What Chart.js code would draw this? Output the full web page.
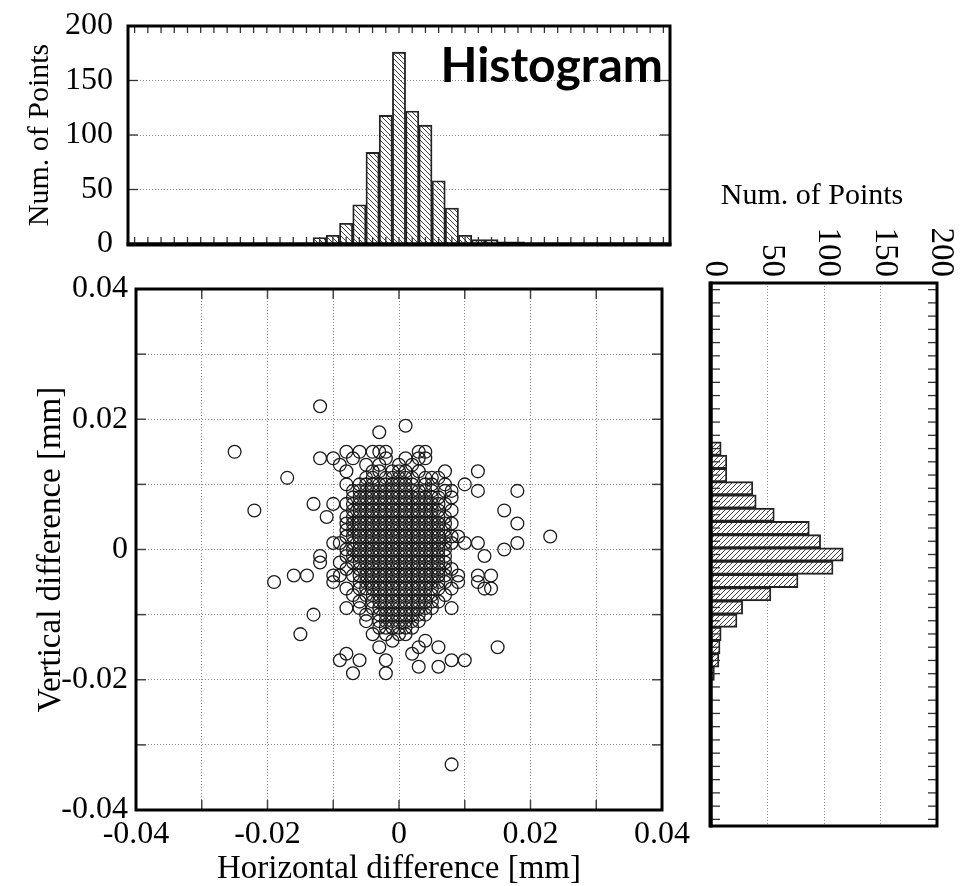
<!DOCTYPE html>
<html><head><meta charset="utf-8">
<script src="https://cdn.jsdelivr.net/npm/chart.js@4.4.1/dist/chart.umd.min.js"></script>
<style>
html,body{margin:0;padding:0;background:#fff;}
body{width:961px;height:886px;position:relative;overflow:hidden;}
.box{position:absolute;}
</style></head><body>
<div class="box" style="left:0;top:0;width:690px;height:265px"><canvas id="cTop"></canvas></div>
<div class="box" style="left:0;top:270px;width:690px;height:616px"><canvas id="cMain"></canvas></div>
<div class="box" style="left:690px;top:170px;width:271px;height:716px"><canvas id="cRight"></canvas></div>
<script>
// ---------- data ----------
// tick labels
const scatterTickLabels = ['-0.04', '-0.02', '0', '0.02', '0.04'];
const histTickLabels = ['0', '50', '100', '150', '200'];

// histogram of horizontal differences (bin centres in mm, counts)
const topBinCenters = [-0.012, -0.010, -0.008, -0.006, -0.004, -0.002, 0, 0.002, 0.004, 0.006, 0.008, 0.010, 0.012, 0.014, 0.016, 0.018];
const topCounts     = [6, 8, 19, 36, 84, 118, 176, 122, 109, 58, 33, 8, 4, 4, 2, 2];

// histogram of vertical differences (bin centres in mm, counts)
const rightBinCenters = [0.016, 0.014, 0.012, 0.010, 0.008, 0.006, 0.004, 0.002, 0, -0.002, -0.004, -0.006, -0.008, -0.010, -0.012, -0.014, -0.016, -0.018];
const rightCounts     = [9, 14, 14, 37, 40, 56, 87, 97, 117, 108, 77, 53, 28, 23, 9, 8, 7, 3];

// scatter, in micrometres (0.001 mm): filled stretches of the dense core [y, xFrom, xTo]
const coreRuns = [
  [11,-2,1],[10,-3,2],[9,-4,3],[8,-5,4],[7,-5,5],[6,-5,5],[5,-6,5],[4,-6,6],[3,-6,6],[2,-6,6],[1,-6,6],
  [0,-6,6],[-1,-6,6],[-2,-6,6],[-3,-5,6],[-4,-5,5],[-5,-4,5],[-6,-4,5],[-7,-3,4],[-8,-3,4],
  [-9,-2,3],[-10,-2,2],[-11,-1,2],[-12,-1,1]
];
// scatter, in micrometres: individual points around the core [x, y]
const loosePts = [
  [-12,22],[1,19],[-3,18],
  [-25,15],[-8,15],[-6,15],[-4,15],[-3,15],[-2,15],[3,15],[4,15],
  [-12,14],[-10,14],[-7,14],[-2,14],[1,14],[3,14],[4,14],
  [-9,13],[-5,13],[-3,13],[0,13],[2,13],
  [-8,12],[-4,12],[-3,12],[-1,12],[0,12],[1,12],[3,12],[7,12],[12,12],
  [-17,11],[-5,11],[-4,11],[2,11],[4,11],[5,11],[6,11],
  [-8,10],[-6,10],[-5,10],[-4,10],[4,10],[5,10],[7,10],[10,10],
  [-7,9],[-6,9],[-5,9],[4,9],[5,9],[7,9],[8,9],[12,9],[18,9],
  [-7,8],[-6,8],[5,8],[6,8],[8,8],
  [-13,7],[-10,7],[-8,7],[-7,7],[-6,7],[6,7],[7,7],
  [-22,6],[-7,6],[-6,6],[6,6],[8,6],[16,6],
  [-11,5],[-8,5],[-7,5],[6,5],[7,5],
  [-8,4],[-7,4],[7,4],[8,4],[18,4],
  [-8,3],[-7,3],[7,3],
  [-8,2],[-7,2],[7,2],[8,2],[9,2],[23,2],
  [-10,1],[-9,1],[-7,1],[7,1],[8,1],[10,1],[12,1],[18,1],
  [-8,0],[-7,0],[7,0],[16,0],
  [-12,-1],[-8,-1],[-7,-1],[7,-1],[13,-1],
  [-12,-2],[-9,-2],[-7,-2],[7,-2],
  [-8,-3],[-6,-3],[7,-3],[8,-3],
  [-16,-4],[-14,-4],[-10,-4],[-9,-4],[-7,-4],[-6,-4],[6,-4],[7,-4],[9,-4],[12,-4],[14,-4],
  [-19,-5],[-10,-5],[-6,-5],[-5,-5],[6,-5],[7,-5],[9,-5],[12,-5],
  [-8,-6],[-6,-6],[-5,-6],[6,-6],[8,-6],[13,-6],[14,-6],
  [-7,-7],[-5,-7],[-4,-7],[5,-7],[7,-7],
  [-6,-8],[-4,-8],[5,-8],[6,-8],
  [-8,-9],[-6,-9],[-4,-9],[-3,-9],[4,-9],[5,-9],[8,-9],
  [-13,-10],[-5,-10],[-3,-10],[3,-10],[4,-10],
  [-5,-11],[-3,-11],[-2,-11],[3,-11],
  [-3,-12],[-2,-12],[2,-12],
  [-15,-13],[-4,-13],[-2,-13],[0,-13],[1,-13],
  [-1,-14],[4,-14],
  [-3,-15],[3,-15],[6,-15],[15,-15],
  [-8,-16],[2,-16],
  [-9,-17],[-6,-17],[-2,-17],[8,-17],[10,-17],
  [3,-18],[6,-18],[-7,-19],[-2,-19],
  [8,-33]
];

// ---------- build ----------
const UM = 0.001;
const scatterPts = [];
coreRuns.forEach(([y, a, b]) => { for (let x = a; x <= b; x++) scatterPts.push({x: x * UM, y: y * UM}); });
loosePts.forEach(([x, y]) => scatterPts.push({x: x * UM, y: y * UM}));

const SERIF = '"Liberation Serif", "Times New Roman", Times, serif';
const GRID = '#8c8c8c';

function hatch(dir) {
  const s = 5, c = document.createElement('canvas');
  c.width = s; c.height = s;
  const g = c.getContext('2d');
  g.strokeStyle = '#2a2a2a'; g.lineWidth = 0.9; g.beginPath();
  if (dir > 0) { // "\"
    g.moveTo(-1, -1); g.lineTo(s + 1, s + 1);
    g.moveTo(-1, s - 1); g.lineTo(1, s + 1);
    g.moveTo(s - 1, -1); g.lineTo(s + 1, 1);
  } else { // "/"
    g.moveTo(-1, s + 1); g.lineTo(s + 1, -1);
    g.moveTo(-1, 1); g.lineTo(1, -1);
    g.moveTo(s - 1, s + 1); g.lineTo(s + 1, s - 1);
  }
  g.stroke();
  return g.createPattern(c, 'repeat');
}

function seg(ctx, x1, y1, x2, y2) { ctx.beginPath(); ctx.moveTo(x1, y1); ctx.lineTo(x2, y2); ctx.stroke(); }
const noPadH = s => { s.paddingLeft = 0; s.paddingRight = 0; };
const noPadV = s => { s.paddingTop = 0; s.paddingBottom = 0; };

const base = {
  responsive: true, maintainAspectRatio: false, animation: false, events: [],
  plugins: {legend: {display: false}, tooltip: {enabled: false}}
};

function build() {
  // ----- top histogram -----
  const topDeco = {
    id: 'topDeco',
    afterDraw(chart) {
      const {ctx, chartArea: a, scales: {x, y}} = chart;
      ctx.save();
      ctx.strokeStyle = '#333'; ctx.lineWidth = 1.3;
      x.ticks.forEach(t => { const p = x.getPixelForValue(t.value); seg(ctx, p, a.top, p, a.top + 7); seg(ctx, p, a.bottom, p, a.bottom - 7); });
      y.ticks.forEach(t => { const p = y.getPixelForValue(t.value); seg(ctx, a.left, p, a.left + 10, p); seg(ctx, a.right, p, a.right - 10, p); });
      ctx.strokeStyle = '#000'; ctx.lineWidth = 3;
      ctx.strokeRect(a.left, a.top, a.width, a.height);
      ctx.lineWidth = 4; seg(ctx, a.left - 1.5, a.bottom + 0.5, a.right + 1.5, a.bottom + 0.5);
      ctx.fillStyle = '#000';
      ctx.font = 'bold 48px Lato, "Open Sans", sans-serif';
      ctx.textAlign = 'right'; ctx.textBaseline = 'alphabetic';
      ctx.fillText('Histogram', a.right - 7, 82);
      ctx.restore();
    }
  };
  new Chart(document.getElementById('cTop'), {
    type: 'bar',
    data: {datasets: [{
      data: topBinCenters.map((c, i) => ({x: c, y: topCounts[i]})),
      backgroundColor: hatch(1), borderColor: '#222', borderWidth: 1.2,
      barPercentage: 1, categoryPercentage: 1
    }]},
    options: Object.assign({}, base, {
      layout: {padding: {top: 26, right: 20, bottom: 21, left: 0}},
      scales: {
        x: {type: 'linear', min: -0.04, max: 0.04,
            ticks: {display: false, stepSize: 0.002},
            grid: {display: false, drawTicks: false}, border: {display: false},
            afterFit: s => { s.height = 0; noPadH(s); }},
        y: {min: 0, max: 200,
            ticks: {stepSize: 50, padding: 15, color: '#000', font: {family: SERIF, size: 32},
                    callback: v => histTickLabels[Math.round(v / 50)]},
            grid: {color: GRID, lineWidth: 1, drawTicks: false},
            border: {display: false, dash: [1, 2]},
            title: {display: true, text: 'Num. of Points', color: '#000', font: {family: SERIF, size: 30}, padding: {top: 22, bottom: 0}},
            afterFit: s => { s.width = 128; noPadV(s); }}
      }
    }),
    plugins: [topDeco]
  });

  // ----- scatter -----
  const mainDeco = {
    id: 'mainDeco',
    afterDraw(chart) {
      const {ctx, chartArea: a, scales: {x, y}} = chart;
      ctx.save();
      ctx.strokeStyle = '#444'; ctx.lineWidth = 1.5;
      x.ticks.forEach(t => { const p = x.getPixelForValue(t.value); seg(ctx, p, a.top, p, a.top + 10); seg(ctx, p, a.bottom, p, a.bottom - 10); });
      y.ticks.forEach(t => { const p = y.getPixelForValue(t.value); seg(ctx, a.left, p, a.left + 10, p); seg(ctx, a.right, p, a.right - 10, p); });
      ctx.strokeStyle = '#000'; ctx.lineWidth = 3;
      ctx.strokeRect(a.left, a.top, a.width, a.height);
      ctx.restore();
    }
  };
  const lab = v => { const k = Math.round(v * 100); return (k % 2 === 0) ? scatterTickLabels[(k + 4) / 2] : ''; };
  new Chart(document.getElementById('cMain'), {
    type: 'scatter',
    data: {datasets: [{
      data: scatterPts, pointRadius: 6.4, pointHoverRadius: 6.4, pointBorderWidth: 1.3,
      pointBorderColor: '#1a1a1a', pointBackgroundColor: 'rgba(0,0,0,0)'
    }]},
    options: Object.assign({}, base, {
      layout: {padding: {top: 19, right: 28, bottom: 0, left: 0}},
      scales: {
        x: {type: 'linear', min: -0.04, max: 0.04,
            ticks: {stepSize: 0.01, padding: 5, color: '#000', maxRotation: 0, autoSkip: false, font: {family: SERIF, size: 32}, callback: lab},
            grid: {color: GRID, lineWidth: 1, drawTicks: false},
            border: {display: false, dash: [1, 2]},
            title: {display: true, text: 'Horizontal difference [mm]', color: '#000', font: {family: SERIF, size: 33}, padding: {top: 0, bottom: -3}},
            afterFit: s => { s.height = 76; noPadH(s); }},
        y: {type: 'linear', min: -0.04, max: 0.04,
            ticks: {stepSize: 0.01, padding: 8, color: '#000', autoSkip: false, font: {family: SERIF, size: 32}, callback: lab},
            grid: {color: GRID, lineWidth: 1, drawTicks: false},
            border: {display: false, dash: [1, 2]},
            title: {display: true, text: 'Vertical difference [mm]', color: '#000', font: {family: SERIF, size: 33}, padding: {top: 32, bottom: 0}},
            afterFit: s => { s.width = 136; noPadV(s); }}
      }
    }),
    plugins: [mainDeco]
  });

  // ----- right histogram -----
  const rightDeco = {
    id: 'rightDeco',
    afterDraw(chart) {
      const {ctx, chartArea: a, scales: {x, y}} = chart;
      ctx.save();
      ctx.strokeStyle = '#333'; ctx.lineWidth = 1.3;
      y.ticks.forEach(t => { const p = y.getPixelForValue(t.value); seg(ctx, a.left, p, a.left + 9, p); seg(ctx, a.right, p, a.right - 9, p); });
      ctx.strokeStyle = '#000'; ctx.lineWidth = 3;
      ctx.strokeRect(a.left, a.top, a.width, a.height);
      ctx.lineWidth = 4; seg(ctx, a.left - 0.5, a.top - 1.5, a.left - 0.5, a.bottom + 1.5);
      ctx.fillStyle = '#000';
      ctx.font = '33px ' + SERIF;
      ctx.textAlign = 'right'; ctx.textBaseline = 'middle';
      x.ticks.forEach(t => {
        const p = x.getPixelForValue(t.value);
        ctx.save(); ctx.translate(p + 4, a.top - 6); ctx.rotate(Math.PI / 2);
        ctx.fillText(histTickLabels[Math.round(t.value / 50)], 0, 0);
        ctx.restore();
      });
      ctx.font = '30px ' + SERIF; ctx.textAlign = 'center';
      ctx.fillText('Num. of Points', a.left + 101, 26);
      ctx.restore();
    }
  };
  new Chart(document.getElementById('cRight'), {
    type: 'bar',
    data: {datasets: [{
      data: rightBinCenters.map((c, i) => ({x: rightCounts[i], y: c})),
      backgroundColor: hatch(-1), borderColor: '#222', borderWidth: 1.2,
      barPercentage: 1, categoryPercentage: 1
    }]},
    options: Object.assign({}, base, {
      indexAxis: 'y',
      layout: {padding: {top: 0, right: 24, bottom: 60, left: 21}},
      scales: {
        x: {type: 'linear', position: 'top', min: 0, max: 200,
            ticks: {display: false, stepSize: 50},
            grid: {color: GRID, lineWidth: 1, drawTicks: false},
            border: {display: false, dash: [1, 2]},
            afterFit: s => { s.height = 113; noPadH(s); }},
        y: {type: 'linear', min: -0.04, max: 0.04,
            ticks: {display: false, stepSize: 0.002},
            grid: {display: false, drawTicks: false}, border: {display: false},
            afterFit: s => { s.width = 0; noPadV(s); }}
      }
    }),
    plugins: [rightDeco]
  });
}

const fontsReady = document.fonts && document.fonts.load
  ? Promise.all([document.fonts.load('bold 48px Lato'), document.fonts.load('30px "Liberation Serif"')]).catch(() => {})
  : Promise.resolve();
Promise.race([fontsReady, new Promise(r => setTimeout(r, 800))]).then(build);
</script></body></html>
